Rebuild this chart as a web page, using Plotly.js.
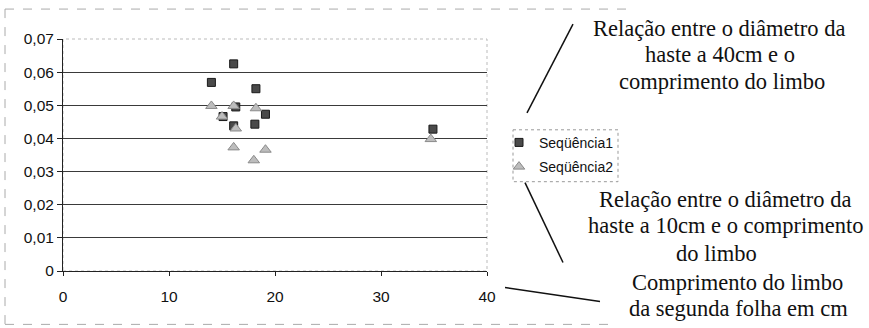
<!DOCTYPE html>
<html>
<head>
<meta charset="utf-8">
<script src="https://cdn.plot.ly/plotly-3.0.1.min.js"></script>
<style>html,body{margin:0;padding:0;background:#fff;}#chart{width:869px;height:328px;}</style>
</head>
<body>
<div id="chart"></div>
<script>
// Data
const seriesNames = ['Seqüência1', 'Seqüência2'];
const seq1X = [14.0, 16.1, 18.2, 19.1, 18.1, 16.1, 15.1, 16.3, 34.9];
const seq1Y = [0.0569, 0.0625, 0.0550, 0.0473, 0.0443, 0.0438, 0.0466, 0.0495, 0.0428];
const seq2X = [14.0, 15.0, 16.1, 16.3, 16.1, 18.2, 18.0, 19.1, 34.7];
const seq2Y = [0.0498, 0.0466, 0.0498, 0.0430, 0.0373, 0.0491, 0.0334, 0.0366, 0.0398];
const yTickVals = [0, 0.01, 0.02, 0.03, 0.04, 0.05, 0.06, 0.07];
const yTickText = ['0', '0,01', '0,02', '0,03', '0,04', '0,05', '0,06', '0,07'];
const xTickVals = [0, 10, 20, 30, 40];
const noteTopLines = ['Relação entre o diâmetro da', 'haste a 40cm e o', 'comprimento do limbo'];
const noteMidLines = ['Relação entre o diâmetro da', 'haste a 10cm e o comprimento', 'do limbo'];
const noteBottomLines = ['Comprimento do limbo', 'da segunda folha em cm'];

// Layout geometry (pixels)
const W = 869, H = 328;
const L = 63, R = 487, T = 39, B = 271.5;
const px = v => (v - L) / (R - L);
const py = v => (B - v) / (B - T);

const traces = [
  {x: seq1X, y: seq1Y, name: seriesNames[0], legendgroup: 'a', type: 'scatter', mode: 'markers',
   marker: {symbol: 'square', size: 8, color: '#4a4a4a', line: {color: '#1a1a1a', width: 1}}},
  {x: seq2X, y: seq2Y, name: seriesNames[1], legendgroup: 'b', type: 'scatter', mode: 'markers',
   marker: {symbol: 'triangle-up', size: 10, color: '#bdbdbd', line: {color: '#8a8a8a', width: 1}}}
];

const serif = {family: 'Liberation Serif, Times New Roman, serif', size: 22.5, color: '#111'};

// per-line annotation placement: [centre x px, baseline y px]
const notePos = [
  [noteTopLines, [[719, 36], [719.5, 62.5], [722, 89]]],
  [noteMidLines, [[725, 207], [726, 233], [716, 261]]],
  [noteBottomLines, [[737, 291], [738, 317]]]
];
const annotations = [];
notePos.forEach(([lines, pos]) => {
  lines.forEach((t, i) => {
    annotations.push({text: t, xref: 'paper', yref: 'paper',
      x: px(pos[i][0]), y: py(pos[i][1] - 7.5), xanchor: 'center', yanchor: 'middle',
      showarrow: false, font: serif});
  });
});

const layout = {
  width: W, height: H,
  margin: {l: L, r: W - R, t: T, b: H - B, pad: 0},
  paper_bgcolor: '#fff', plot_bgcolor: '#fff',
  font: {family: 'Liberation Sans, Arial, sans-serif', size: 15, color: '#111'},
  showlegend: true,
  legend: {x: px(499), y: py(127), xanchor: 'left', yanchor: 'top',
           bgcolor: 'rgba(0,0,0,0)', borderwidth: 0,
           font: {family: 'Liberation Sans, Arial, sans-serif', size: 14, color: '#111'},
           itemwidth: 30, tracegroupgap: 3},
  xaxis: {range: [0, 40], tickvals: xTickVals, showgrid: false, zeroline: false,
          showline: true, linecolor: '#222', linewidth: 1,
          ticks: 'outside', ticklen: 4, tickcolor: '#222', fixedrange: true,
          ticklabelstandoff: 7, tickfont: {size: 15.5}},
  yaxis: {range: [0, 0.07], tickvals: yTickVals, ticktext: yTickText,
          showgrid: true, gridcolor: '#3a3a3a', gridwidth: 1, zeroline: false,
          showline: true, linecolor: '#222', linewidth: 1,
          ticks: 'outside', ticklen: 5, tickcolor: '#222', fixedrange: true,
          tickfont: {size: 15.5}},
  shapes: [
    {type: 'rect', xref: 'paper', yref: 'paper', x0: 0, x1: 1, y0: 0, y1: 1,
     line: {color: '#bbb', width: 1, dash: 'dot'}, layer: 'below'},
    {type: 'line', xref: 'paper', yref: 'paper', x0: px(5), x1: px(627), y0: py(9), y1: py(9),
     line: {color: '#aaa', width: 1, dash: 'dash'}},
    {type: 'line', xref: 'paper', yref: 'paper', x0: px(5), x1: px(5), y0: py(9), y1: py(325),
     line: {color: '#aaa', width: 1, dash: 'dash'}},
    {type: 'line', xref: 'paper', yref: 'paper', x0: px(5), x1: px(610), y0: py(325), y1: py(325),
     line: {color: '#aaa', width: 1, dash: 'dash'}},
    {type: 'rect', xref: 'paper', yref: 'paper', x0: px(513), x1: px(618), y0: py(130), y1: py(182),
     line: {color: '#999', width: 1, dash: 'dot'}},
    {type: 'line', xref: 'paper', yref: 'paper', x0: px(527), y0: py(113), x1: px(573), y1: py(24),
     line: {color: '#111', width: 1.5}},
    {type: 'line', xref: 'paper', yref: 'paper', x0: px(525), y0: py(183), x1: px(563), y1: py(263),
     line: {color: '#111', width: 1.5}},
    {type: 'line', xref: 'paper', yref: 'paper', x0: px(505), y0: py(288), x1: px(600), y1: py(302),
     line: {color: '#111', width: 1.5}}
  ],
  annotations: annotations
};

Plotly.newPlot('chart', traces, layout, {displayModeBar: false, staticPlot: true});
</script>
</body>
</html>
